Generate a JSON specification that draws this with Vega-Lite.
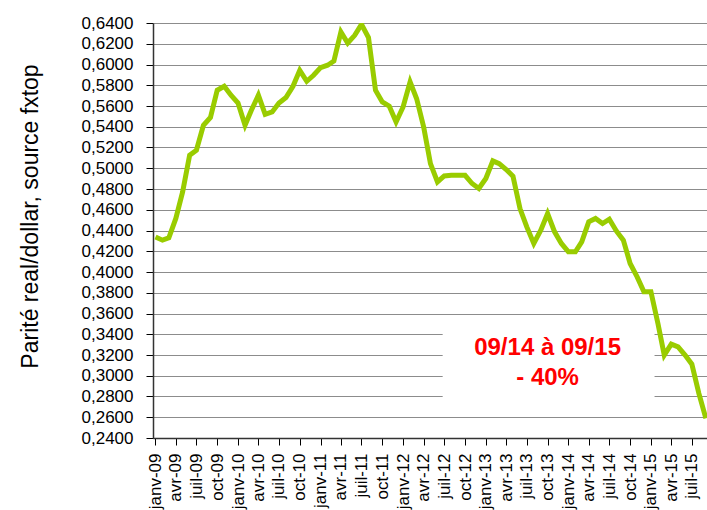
{
  "$schema": "https://vega.github.io/schema/vega-lite/v6.json",
  "autosize": {"type": "none"},
  "width": 554,
  "height": 415,
  "padding": {"left": 153, "top": 23, "right": 0, "bottom": 72},
  "background": "white",
  "config": {
    "view": {"stroke": null},
    "font": "Liberation Sans",
    "axis": {"labelFont": "Liberation Sans", "titleFont": "Liberation Sans"},
    "axisY": {
      "titleFontSize": 23,
      "titleFontWeight": "normal",
      "titleColor": "#000000",
      "titleAngle": -90,
      "titleBaseline": "middle",
      "titleAlign": "center",
      "titleX": -123,
      "titleY": 193,
      "labelFontSize": 17,
      "labelColor": "#000000",
      "labelPadding": 13,
      "labelOverlap": false,
      "labelFlush": false,
      "tickSize": 7,
      "tickColor": "#000000",
      "domainColor": "#333333",
      "domainWidth": 1.5,
      "grid": true,
      "gridColor": "#8c8c8c",
      "gridWidth": 1
    },
    "axisX": {
      "grid": false,
      "labelAngle": -90,
      "labelAlign": "right",
      "labelBaseline": "middle",
      "labelFontSize": 17,
      "labelColor": "#000000",
      "labelPadding": 8,
      "labelOverlap": false,
      "labelFlush": false,
      "labelBound": false,
      "tickSize": 7,
      "tickColor": "#000000",
      "tickWidth": 1,
      "domainColor": "#333333",
      "domainWidth": 1.5
    }
  },
  "datasets": {
    "series": [
      {"date": "2009-01-01", "value": 0.4338},
      {"date": "2009-02-01", "value": 0.4307},
      {"date": "2009-03-01", "value": 0.4329},
      {"date": "2009-04-01", "value": 0.4516},
      {"date": "2009-05-01", "value": 0.4772},
      {"date": "2009-06-01", "value": 0.5126},
      {"date": "2009-07-01", "value": 0.5174},
      {"date": "2009-08-01", "value": 0.5414},
      {"date": "2009-09-01", "value": 0.5489},
      {"date": "2009-10-01", "value": 0.5752},
      {"date": "2009-11-01", "value": 0.579},
      {"date": "2009-12-01", "value": 0.5704},
      {"date": "2010-01-01", "value": 0.5629},
      {"date": "2010-02-01", "value": 0.5414},
      {"date": "2010-03-01", "value": 0.5559},
      {"date": "2010-04-01", "value": 0.5704},
      {"date": "2010-05-01", "value": 0.552},
      {"date": "2010-06-01", "value": 0.5543},
      {"date": "2010-07-01", "value": 0.5629},
      {"date": "2010-08-01", "value": 0.5681},
      {"date": "2010-09-01", "value": 0.579},
      {"date": "2010-10-01", "value": 0.5944},
      {"date": "2010-11-01", "value": 0.5838},
      {"date": "2010-12-01", "value": 0.5896},
      {"date": "2011-01-01", "value": 0.597},
      {"date": "2011-02-01", "value": 0.5993},
      {"date": "2011-03-01", "value": 0.6034},
      {"date": "2011-04-01", "value": 0.6313},
      {"date": "2011-05-01", "value": 0.6207},
      {"date": "2011-06-01", "value": 0.6281},
      {"date": "2011-07-01", "value": 0.6387},
      {"date": "2011-08-01", "value": 0.6259},
      {"date": "2011-09-01", "value": 0.5752},
      {"date": "2011-10-01", "value": 0.5639},
      {"date": "2011-11-01", "value": 0.5598},
      {"date": "2011-12-01", "value": 0.5446},
      {"date": "2012-01-01", "value": 0.5591},
      {"date": "2012-02-01", "value": 0.5832},
      {"date": "2012-03-01", "value": 0.567},
      {"date": "2012-04-01", "value": 0.5398},
      {"date": "2012-05-01", "value": 0.5045},
      {"date": "2012-06-01", "value": 0.4868},
      {"date": "2012-07-01", "value": 0.4926},
      {"date": "2012-08-01", "value": 0.4932},
      {"date": "2012-09-01", "value": 0.4932},
      {"date": "2012-10-01", "value": 0.4932},
      {"date": "2012-11-01", "value": 0.4853},
      {"date": "2012-12-01", "value": 0.4805},
      {"date": "2013-01-01", "value": 0.4901},
      {"date": "2013-02-01", "value": 0.5071},
      {"date": "2013-03-01", "value": 0.5045},
      {"date": "2013-04-01", "value": 0.4988},
      {"date": "2013-05-01", "value": 0.4923},
      {"date": "2013-06-01", "value": 0.4612},
      {"date": "2013-07-01", "value": 0.4435},
      {"date": "2013-08-01", "value": 0.4275},
      {"date": "2013-09-01", "value": 0.4403},
      {"date": "2013-10-01", "value": 0.4564},
      {"date": "2013-11-01", "value": 0.4387},
      {"date": "2013-12-01", "value": 0.4275},
      {"date": "2014-01-01", "value": 0.4194},
      {"date": "2014-02-01", "value": 0.4194},
      {"date": "2014-03-01", "value": 0.429},
      {"date": "2014-04-01", "value": 0.4483},
      {"date": "2014-05-01", "value": 0.4516},
      {"date": "2014-06-01", "value": 0.4467},
      {"date": "2014-07-01", "value": 0.4509},
      {"date": "2014-08-01", "value": 0.4396},
      {"date": "2014-09-01", "value": 0.4307},
      {"date": "2014-10-01", "value": 0.4082},
      {"date": "2014-11-01", "value": 0.3953},
      {"date": "2014-12-01", "value": 0.3809},
      {"date": "2015-01-01", "value": 0.3809},
      {"date": "2015-02-01", "value": 0.3504},
      {"date": "2015-03-01", "value": 0.3199},
      {"date": "2015-04-01", "value": 0.3305},
      {"date": "2015-05-01", "value": 0.3279},
      {"date": "2015-06-01", "value": 0.3199},
      {"date": "2015-07-01", "value": 0.3112},
      {"date": "2015-08-01", "value": 0.283},
      {"date": "2015-09-01", "value": 0.2589}
    ],
    "box": [
      {"start": "2012-06-24", "end": "2015-01-17", "low": 0.2717, "high": 0.3488}
    ],
    "note": [
      {"date": "2013-10-01", "value": 0.3199, "label": "09/14 à 09/15"},
      {"date": "2013-10-01", "value": 0.2910, "label": "- 40%"}
    ]
  },
  "layer": [
    {
      "data": {"name": "series"},
      "mark": {"type": "line", "color": "#99CC00", "strokeWidth": 5, "strokeJoin": "miter", "clip": true},
      "encoding": {
        "x": {
          "field": "date",
          "type": "temporal",
          "scale": {"type": "utc", "domain": [{"year": 2008, "month": 12, "date": 21, "utc": true}, {"year": 2015, "month": 9, "date": 6, "utc": true}], "nice": false},
          "axis": {
            "title": null,
            "tickCount": {"interval": "month", "step": 3},
            "labelExpr": "['janv','févr','mars','avr','mai','juin','juil','août','sept','oct','nov','déc'][utcmonth(datum.value)] + '-' + utcFormat(datum.value, '%y')"
          }
        },
        "y": {
          "field": "value",
          "type": "quantitative",
          "scale": {"domain": [0.24, 0.64], "nice": false, "zero": false},
          "axis": {
            "title": "Parité real/dollar, source fxtop",
            "values": [0.24, 0.26, 0.28, 0.30, 0.32, 0.34, 0.36, 0.38, 0.40, 0.42, 0.44, 0.46, 0.48, 0.50, 0.52, 0.54, 0.56, 0.58, 0.60, 0.62, 0.64],
            "labelExpr": "replace(format(datum.value, '.4f'), '.', ',')"
          }
        }
      }
    },
    {
      "data": {"name": "box"},
      "mark": {"type": "rect", "fill": "white", "stroke": null},
      "encoding": {
        "x": {
          "field": "start", "type": "temporal", "scale": {"type": "utc"},
          "axis": {
            "title": null,
            "tickCount": {"interval": "month", "step": 3},
            "labelExpr": "['janv','févr','mars','avr','mai','juin','juil','août','sept','oct','nov','déc'][utcmonth(datum.value)] + '-' + utcFormat(datum.value, '%y')"
          }
        },
        "x2": {"field": "end"},
        "y": {
          "field": "low", "type": "quantitative",
          "axis": {
            "title": "Parité real/dollar, source fxtop",
            "values": [0.24, 0.26, 0.28, 0.30, 0.32, 0.34, 0.36, 0.38, 0.40, 0.42, 0.44, 0.46, 0.48, 0.50, 0.52, 0.54, 0.56, 0.58, 0.60, 0.62, 0.64],
            "labelExpr": "replace(format(datum.value, '.4f'), '.', ',')"
          }
        },
        "y2": {"field": "high"}
      }
    },
    {
      "data": {"name": "note"},
      "mark": {"type": "text", "color": "#FF0000", "fontWeight": "bold", "fontSize": 24, "align": "center", "baseline": "alphabetic", "font": "Liberation Sans"},
      "encoding": {
        "x": {
          "field": "date", "type": "temporal", "scale": {"type": "utc"},
          "axis": {
            "title": null,
            "tickCount": {"interval": "month", "step": 3},
            "labelExpr": "['janv','févr','mars','avr','mai','juin','juil','août','sept','oct','nov','déc'][utcmonth(datum.value)] + '-' + utcFormat(datum.value, '%y')"
          }
        },
        "y": {
          "field": "value", "type": "quantitative",
          "axis": {
            "title": "Parité real/dollar, source fxtop",
            "values": [0.24, 0.26, 0.28, 0.30, 0.32, 0.34, 0.36, 0.38, 0.40, 0.42, 0.44, 0.46, 0.48, 0.50, 0.52, 0.54, 0.56, 0.58, 0.60, 0.62, 0.64],
            "labelExpr": "replace(format(datum.value, '.4f'), '.', ',')"
          }
        },
        "text": {"field": "label", "type": "nominal"}
      }
    }
  ]
}
